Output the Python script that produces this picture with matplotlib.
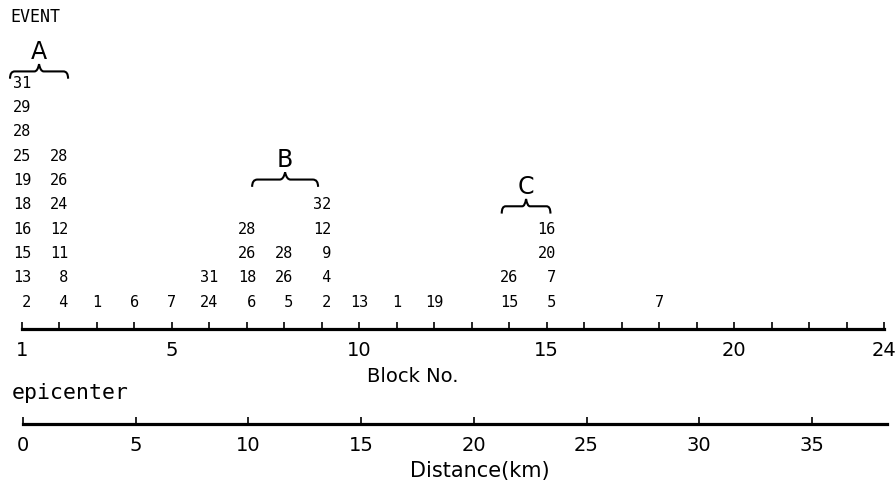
import numpy as np
from matplotlib import pyplot as plt
from matplotlib.path import Path
from matplotlib.patches import PathPatch

# Datos: eventos registrados en cada bloque (de abajo hacia arriba)
bloques = [1, 2, 3, 4, 5, 6, 7, 8, 9, 10, 11, 12, 14, 15, 18]
eventos = [
    [2, 13, 15, 16, 18, 19, 25, 28, 29, 31],
    [4, 8, 11, 12, 24, 26, 28],
    [1],
    [6],
    [7],
    [24, 31],
    [6, 18, 26, 28],
    [5, 26, 28],
    [2, 4, 9, 12, 32],
    [13],
    [1],
    [19],
    [15, 26],
    [5, 7, 20, 16],
    [7],
]

# Grupos A, B, C: (etiqueta, bloque inicial, bloque final, fila)
grupos = [("A", 0.68, 2.23, 9.45), ("B", 7.14, 8.9, 5.0), ("C", 13.8, 15.1, 3.9)]

ticks_bloque = [1, 5, 10, 15, 20, 24]
ticks_dist = [0, 5, 10, 15, 20, 25, 30, 35]
dist_max = 38.33

W, H = 896, 485
fig = plt.figure(figsize=(W / 100, H / 100), dpi=100)

def fx(px):
    return px / W

def fy(py):
    return 1 - py / H

# Eje superior: número de bloque
ax = fig.add_axes([fx(22), fy(330), fx(884) - fx(22), 330 / H])
ax.set_xlim(1, 24)
ax.set_ylim(-1.15, 330 / 24.3 - 1.15)
for s in ["left", "right", "top"]:
    ax.spines[s].set_visible(False)
ax.spines["bottom"].set_linewidth(2.3)
ax.set_yticks([])
ax.set_xticks(ticks_bloque)
ax.set_xticks(range(1, 25), minor=True)
ax.tick_params(axis="x", which="both", direction="in", length=5, width=1.2, pad=8,
               labelsize=14)

mono = "DejaVu Sans Mono"
for b, evs in zip(bloques, eventos):
    dos = max(evs) >= 10
    for fila, e in enumerate(evs):
        txt = f"{e:2d}" if dos else str(e)
        ax.text(b, fila, txt, ha="center", va="center", fontsize=11, family=mono,
                clip_on=False)

def llave(ax, x0, x1, y, d=0.3):
    xm = (x0 + x1) / 2
    w = (x1 - x0) * 0.08
    verts = [(x0, y - d), (x0, y), (x0 + w, y),
             (xm - w, y), (xm - w * 0.3, y), (xm, y + d),
             (xm + w * 0.3, y), (xm + w, y),
             (x1 - w, y), (x1, y), (x1, y - d)]
    codes = [Path.MOVETO, Path.CURVE3, Path.CURVE3,
             Path.LINETO, Path.CURVE3, Path.CURVE3,
             Path.CURVE3, Path.CURVE3,
             Path.LINETO, Path.CURVE3, Path.CURVE3]
    ax.add_patch(PathPatch(Path(verts, codes), fill=False, lw=1.5, clip_on=False))

for nombre, x0, x1, y in grupos:
    llave(ax, x0, x1, y)
    ax.text((x0 + x1) / 2, y + 0.85, nombre, ha="center", va="center", fontsize=17,
            clip_on=False)

fig.text(fx(10), fy(17), "EVENT", ha="left", va="center", fontsize=12, family=mono)
fig.text(fx(413), fy(376), "Block No.", ha="center", va="center", fontsize=14)
fig.text(fx(12), fy(393), "epicenter", ha="left", va="center", fontsize=15.5, family=mono)

# Eje inferior: distancia
ax2 = fig.add_axes([fx(23), fy(425), fx(887) - fx(23), 0.05])
ax2.set_xlim(0, dist_max)
for s in ["left", "right", "top"]:
    ax2.spines[s].set_visible(False)
ax2.spines["bottom"].set_linewidth(2.3)
ax2.set_yticks([])
ax2.set_xticks(ticks_dist)
ax2.tick_params(axis="x", direction="in", length=5, width=1.2, pad=8, labelsize=14)
fig.text(fx(480), fy(471), "Distance(km)", ha="center", va="center", fontsize=15)

fig.savefig("out.png", dpi=100)
